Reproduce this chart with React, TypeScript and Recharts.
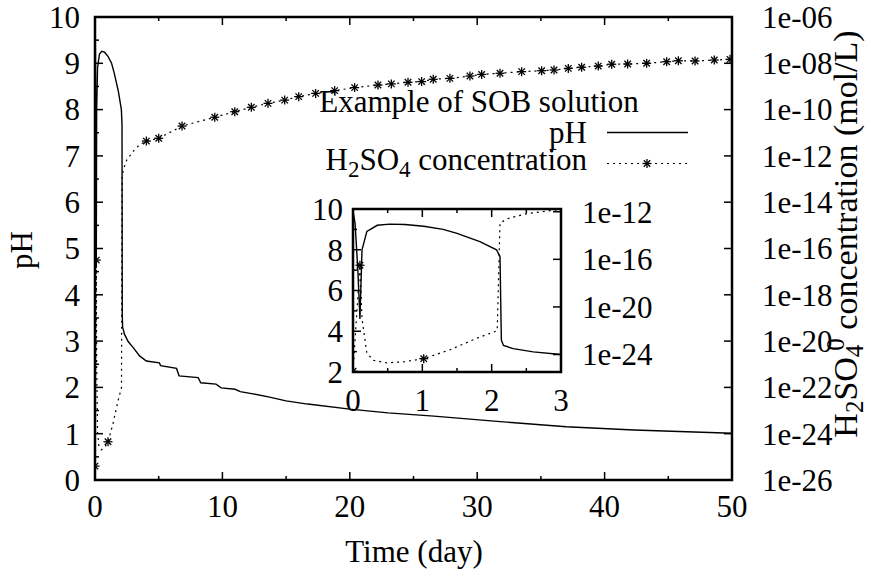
import React from "react";
import { ComposedChart, Line, XAxis, YAxis, ReferenceArea } from "recharts";

// pH of the solution
const phDays = [0, 0.03, 0.07, 0.1, 0.13, 0.2, 0.35, 0.53, 0.75, 1.02, 1.3, 1.5, 1.83, 2.07, 2.12, 2.14, 2.17, 2.31, 2.6, 3.0, 3.5, 4.03, 5.05, 5.15, 6.4, 6.6, 8.1, 8.3, 9.5, 9.9, 11.0, 11.4, 12.4, 13.7, 15.0, 16.7, 20.0, 23.0, 26.6, 31.8, 37.0, 42.3, 50.0];
const phValues = [9.9, 9.3, 7.0, 4.6, 8.0, 8.9, 9.2, 9.26, 9.24, 9.15, 9.0, 8.8, 8.4, 8.0, 7.67, 3.56, 3.3, 3.15, 2.99, 2.86, 2.68, 2.57, 2.53, 2.47, 2.41, 2.25, 2.21, 2.1, 2.07, 1.99, 1.96, 1.91, 1.86, 1.79, 1.71, 1.64, 1.53, 1.45, 1.38, 1.26, 1.15, 1.08, 1.01];

// H2SO4 concentration, stored as the power of ten (mol/L)
const acidDays = [0, 0.1, 0.13, 0.2, 0.3, 0.49, 0.75, 1.02, 1.4, 1.8, 2.08, 2.12, 2.22, 2.49, 3.0, 3.53, 4.03, 5.0, 6.83, 9.4, 10.97, 12.27, 13.58, 14.89, 15.99, 17.32, 18.81, 20.38, 22.21, 23.26, 24.57, 25.64, 26.55, 27.86, 29.43, 30.35, 31.79, 33.49, 35.06, 36.03, 37.15, 38.2, 39.5, 40.56, 41.81, 43.3, 44.87, 45.79, 47.1, 48.61, 49.84];
const acidExponents = [-25.4, -16.5, -21.0, -23.9, -24.5, -24.7, -24.6, -24.35, -23.6, -22.6, -22.0, -12.95, -12.6, -12.18, -11.8, -11.5, -11.36, -11.24, -10.71, -10.33, -10.09, -9.9, -9.73, -9.59, -9.44, -9.3, -9.18, -9.05, -8.94, -8.89, -8.82, -8.79, -8.69, -8.65, -8.55, -8.48, -8.43, -8.36, -8.32, -8.29, -8.22, -8.17, -8.12, -8.04, -8.03, -8.0, -7.93, -7.89, -7.9, -7.86, -7.83];
// 1 where a "*" point is drawn
const acidMarked = [1, 1, 0, 0, 0, 0, 0, 1, 0, 0, 0, 0, 0, 0, 0, 0, 1, 1, 1, 1, 1, 1, 1, 1, 1, 1, 1, 1, 1, 1, 1, 1, 1, 1, 1, 1, 1, 1, 1, 1, 1, 1, 1, 1, 1, 1, 1, 1, 1, 1, 1];

const mainDayTicks = [0, 5, 10, 15, 20, 25, 30, 35, 40, 45, 50];
const mainPhTicks = [0, 0.5, 1, 1.5, 2, 2.5, 3, 3.5, 4, 4.5, 5, 5.5, 6, 6.5, 7, 7.5, 8, 8.5, 9, 9.5, 10];
const mainAcidTicks = [-26, -24, -22, -20, -18, -16, -14, -12, -10, -8, -6];
const insetDayTicks = [0, 0.5, 1, 1.5, 2, 2.5, 3];
const insetPhTicks = [2, 3, 4, 5, 6, 7, 8, 9, 10];
const insetAcidTicks = [-24, -20, -16, -12];

const phRows = phDays.map((day, i) => ({ day, ph: phValues[i] }));
const acidRows = acidDays.map((day, i) => ({
  day,
  acid: Math.pow(10, acidExponents[i]),
  mark: acidMarked[i] === 1,
}));

const FONT = "'Liberation Serif', 'Times New Roman', serif";
const FS = 31;

type Box = { left: number; right: number; top: number; bottom: number };

const isMajor = (v: number, step: number) =>
  Math.abs(v / step - Math.round(v / step)) < 1e-6;

const expLabel = (v: number) => {
  const e = Math.round(Math.log10(v));
  return `1e-${String(-e).padStart(2, "0")}`;
};

// bottom tick: label + inward ticks on bottom and top border
const xTick = (box: Box, step: number, labelY: number) => (p: any) => {
  const v = p.payload.value;
  const x = p.x;
  const major = isMajor(v, step);
  const len = major ? 8 : 4;
  return (
    <g>
      <line x1={x} x2={x} y1={box.bottom} y2={box.bottom - len} stroke="#000" strokeWidth={1.5} />
      <line x1={x} x2={x} y1={box.top} y2={box.top + len} stroke="#000" strokeWidth={1.5} />
      {major && (
        <text x={x} y={labelY} dy="0.35em" textAnchor="middle" fontFamily={FONT} fontSize={FS} fill="#000">
          {v}
        </text>
      )}
    </g>
  );
};

const leftTick = (box: Box, step: number, labelX: number) => (p: any) => {
  const v = p.payload.value;
  const y = p.y;
  const major = isMajor(v, step);
  const len = major ? 8 : 4;
  return (
    <g>
      <line x1={box.left} x2={box.left + len} y1={y} y2={y} stroke="#000" strokeWidth={1.5} />
      {major && (
        <text x={labelX} y={y} dy="0.35em" textAnchor="end" fontFamily={FONT} fontSize={FS} fill="#000">
          {v}
        </text>
      )}
    </g>
  );
};

const rightTick = (box: Box, labelX: number) => (p: any) => {
  const y = p.y;
  return (
    <g>
      <line x1={box.right} x2={box.right - 8} y1={y} y2={y} stroke="#000" strokeWidth={1.5} />
      <text x={labelX} y={y} dy="0.35em" textAnchor="start" fontFamily={FONT} fontSize={FS} fill="#000">
        {expLabel(p.payload.value)}
      </text>
    </g>
  );
};

function Star({ cx, cy, r = 4.5 }: { cx: number; cy: number; r?: number }) {
  const d = r * 0.72;
  return (
    <g stroke="#000" strokeWidth={1.3}>
      <line x1={cx - r} y1={cy} x2={cx + r} y2={cy} />
      <line x1={cx} y1={cy - r} x2={cx} y2={cy + r} />
      <line x1={cx - d} y1={cy - d} x2={cx + d} y2={cy + d} />
      <line x1={cx - d} y1={cy + d} x2={cx + d} y2={cy - d} />
    </g>
  );
}

const renderStar = (p: any) => {
  const { cx, cy, payload, index } = p;
  if (!payload || !payload.mark || cx == null || cy == null) return <g key={`n${index}`} />;
  return <Star key={`s${index}`} cx={cx} cy={cy} />;
};

const MAIN: Box = { left: 95, right: 732, top: 17, bottom: 480 };
const INSET: Box = { left: 60, right: 268, top: 20, bottom: 183 };

function MainChart() {
  return (
    <ComposedChart width={871} height={578} margin={{ top: 17, right: 0, bottom: 17, left: 0 }}>
      <XAxis xAxisId="t" type="number" dataKey="day" domain={[0, 50]} ticks={mainDayTicks} interval={0}
        height={81} axisLine={false} tickLine={false} allowDataOverflow tick={xTick(MAIN, 10, 506)} />
      <YAxis yAxisId="ph" orientation="left" type="number" domain={[0, 10]} ticks={mainPhTicks} interval={0}
        width={95} axisLine={false} tickLine={false} allowDataOverflow tick={leftTick(MAIN, 1, 80)} />
      <YAxis yAxisId="acid" orientation="right" type="number" scale="log" domain={[1e-26, 1e-6]}
        ticks={mainAcidTicks.map((e) => Math.pow(10, e))} interval={0} width={139}
        axisLine={false} tickLine={false} allowDataOverflow tick={rightTick(MAIN, 762)} />
      <ReferenceArea xAxisId="t" yAxisId="ph" x1={0} x2={50} y1={0} y2={10} fill="none"
        stroke="#000" strokeWidth={2.5} ifOverflow="visible" />
      <Line data={phRows} xAxisId="t" yAxisId="ph" dataKey="ph" type="linear" stroke="#000"
        strokeWidth={1.4} dot={false} isAnimationActive={false} />
      <Line data={acidRows} xAxisId="t" yAxisId="acid" dataKey="acid" type="linear" stroke="#000"
        strokeWidth={1.2} strokeDasharray="2 4" dot={renderStar} activeDot={false} isAnimationActive={false} />
    </ComposedChart>
  );
}

function InsetChart() {
  const ph = phRows.filter((r) => r.day <= 3);
  const acid = acidRows.filter((r) => r.day <= 3);
  return (
    <ComposedChart width={368} height={228} margin={{ top: 20, right: 0, bottom: 0, left: 0 }}>
      <XAxis xAxisId="t" type="number" dataKey="day" domain={[0, 3]} ticks={insetDayTicks} interval={0}
        height={45} axisLine={false} tickLine={false} allowDataOverflow tick={xTick(INSET, 1, 211)} />
      <YAxis yAxisId="ph" orientation="left" type="number" domain={[2, 10]} ticks={insetPhTicks} interval={0}
        width={60} axisLine={false} tickLine={false} allowDataOverflow tick={leftTick(INSET, 2, 50)} />
      <YAxis yAxisId="acid" orientation="right" type="number" scale="log"
        domain={[Math.pow(10, -25.47), Math.pow(10, -11.77)]}
        ticks={insetAcidTicks.map((e) => Math.pow(10, e))} interval={0} width={100}
        axisLine={false} tickLine={false} allowDataOverflow tick={rightTick(INSET, 289)} />
      <ReferenceArea xAxisId="t" yAxisId="ph" x1={0} x2={3} y1={2} y2={10} fill="none"
        stroke="#000" strokeWidth={2.5} ifOverflow="visible" />
      <Line data={ph} xAxisId="t" yAxisId="ph" dataKey="ph" type="linear" stroke="#000"
        strokeWidth={1.4} dot={false} isAnimationActive={false} />
      <Line data={acid} xAxisId="t" yAxisId="acid" dataKey="acid" type="linear" stroke="#000"
        strokeWidth={1.2} strokeDasharray="2 4" dot={renderStar} activeDot={false} isAnimationActive={false} />
    </ComposedChart>
  );
}

function Labels() {
  const t = { fontFamily: FONT, fontSize: FS, fill: "#000" };
  return (
    <svg width={871} height={578} style={{ position: "absolute", left: 0, top: 0, pointerEvents: "none" }}>
      <text x={414} y={562} textAnchor="middle" {...t}>Time (day)</text>
      <text x={32} y={250} textAnchor="middle" transform="rotate(-90, 32, 250)" {...t}>pH</text>
      <text x={857} y={234} textAnchor="middle" transform="rotate(-90, 857, 234)" {...t} fontSize={34}>
        H<tspan dy={6} fontSize={25}>2</tspan>
        <tspan dy={-6}>SO</tspan>
        <tspan dy={6} fontSize={25}>4</tspan>
        <tspan dx={-6} dy={-19} fontSize={25}>0</tspan>
        <tspan dy={13}> concentration (mol/L)</tspan>
      </text>
      {/* key */}
      <text x={479} y={112} textAnchor="middle" {...t}>Example of SOB solution</text>
      <text x={587} y={143} textAnchor="end" {...t}>pH</text>
      <line x1={607} x2={688} y1={132.5} y2={132.5} stroke="#000" strokeWidth={1.4} />
      <text x={587} y={170} textAnchor="end" {...t}>
        H<tspan dy={7} fontSize={23}>2</tspan>
        <tspan dy={-7}>SO</tspan>
        <tspan dy={7} fontSize={23}>4</tspan>
        <tspan dy={-7}> concentration</tspan>
      </text>
      <line x1={607} x2={688} y1={163.5} y2={163.5} stroke="#000" strokeWidth={1.2} strokeDasharray="2 4" />
      <Star cx={647} cy={163.5} />
    </svg>
  );
}

export default function App() {
  return (
    <div style={{ position: "absolute", left: 0, top: 0, width: 871, height: 578, background: "#fff" }}>
      <div style={{ position: "absolute", left: 0, top: 0 }}>
        <MainChart />
      </div>
      <div style={{ position: "absolute", left: 293, top: 189 }}>
        <InsetChart />
      </div>
      <Labels />
    </div>
  );
}
